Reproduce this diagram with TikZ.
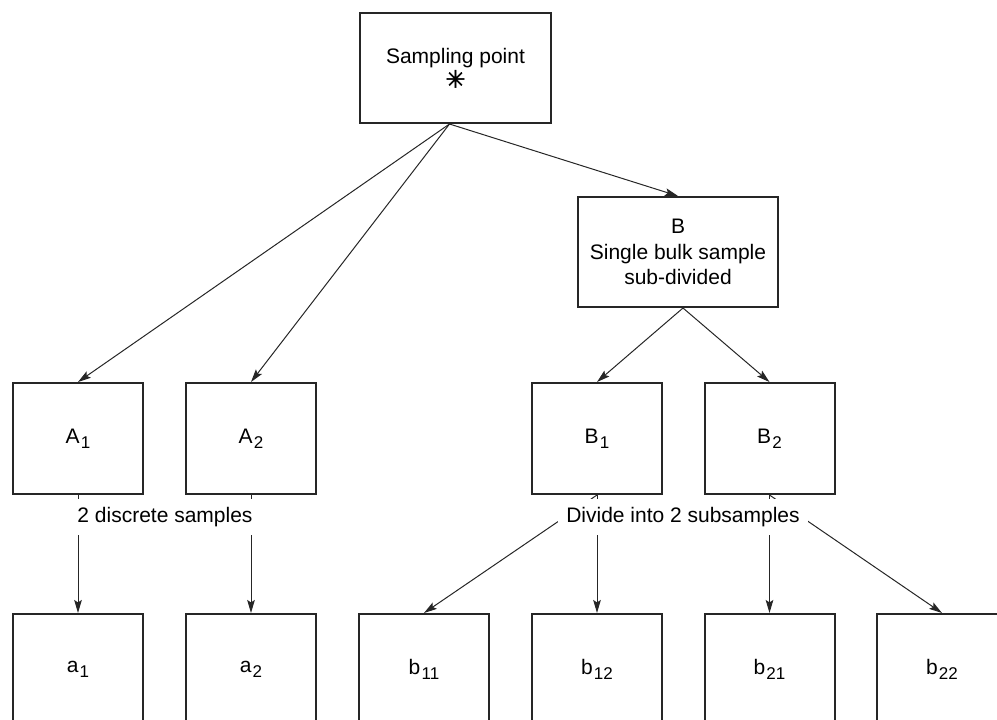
\documentclass[tikz,border=0pt]{standalone}
\usepackage{fontspec}
\setmainfont{Liberation Sans}
\newfontfamily\starfont[FakeBold=2]{DejaVu Sans}
\usepackage{tikz}
\usetikzlibrary{arrows.meta,positioning}
\newcommand{\idxsub}[1]{\kern0.6pt\raisebox{-0.45ex}{\fontsize{8.5}{10}\selectfont #1}}
\tikzstyle{every node}=[font=\fontsize{10.5}{12.6}\selectfont]
\tikzstyle{sample box}=[draw=black!85,line width=1pt,minimum width=65pt,minimum height=55.5pt,inner sep=0pt,align=center]
\tikzstyle{link}=[-{Stealth[length=6.5pt,width=3.8pt,inset=1.2pt]},line width=0.5pt,black!85]
\tikzstyle{gap label}=[fill=white,inner xsep=4pt,inner ysep=4pt]

\begin{document}
\begin{tikzpicture}[x=0.5pt,y=-0.5pt]
\useasboundingbox (0,0) rectangle (997,719);
\clip (0,0) rectangle (997,719);
\def\rowA{438.5}
\def\rowB{669.5}

	% Sampling point and bulk sample
    \node[sample box, minimum width=95.5pt, minimum height=55pt] (S) at (455.5,68) {Sampling point\\[-0.5pt]{\starfont\fontsize{12}{12}\selectfont ✳}};
    \node[sample box, minimum width=100pt, minimum height=55pt] (B) at (678,252) {B\\Single bulk sample\\sub-divided};

	% Second row
    \foreach \name/\x/\lab/\idx in {A-1/78/A/1, A-2/251/A/2, B-1/597/B/1, B-2/769.5/B/2}
        \node[sample box] (\name) at (\x,\rowA) {\lab\idxsub{\idx}};

	% Last row
    \foreach \name/\x/\lab/\idx in {a-1/78/a/1, a-2/251/a/2, b-11/424/b/11, b-12/597/b/12, b-21/769.5/b/21, b-22/942/b/22}
        \node[sample box] (\name) at (\x,\rowB) {\lab\idxsub{\idx}};

	% Sampling point -> samples
    \foreach \dest in {A-1,A-2,B}
        \draw[link] ([xshift=-3pt]S.south) -- (\dest.north);

    \foreach \dest in {B-1,B-2}
        \draw[link] ([xshift=2.5pt]B.south) -- (\dest.north);

	% Samples -> subsamples
    \foreach \source/\dest in {A-1/a-1, A-2/a-2, B-1/b-11, B-1/b-12, B-2/b-21, B-2/b-22}
        \draw[link] (\source.south) -- (\dest.north);

    \node[gap label] (discrete) at (165,517) {2 discrete samples};
    \node[gap label] (divide) at (683,517) {Divide into 2 subsamples};

\end{tikzpicture}
\end{document}
